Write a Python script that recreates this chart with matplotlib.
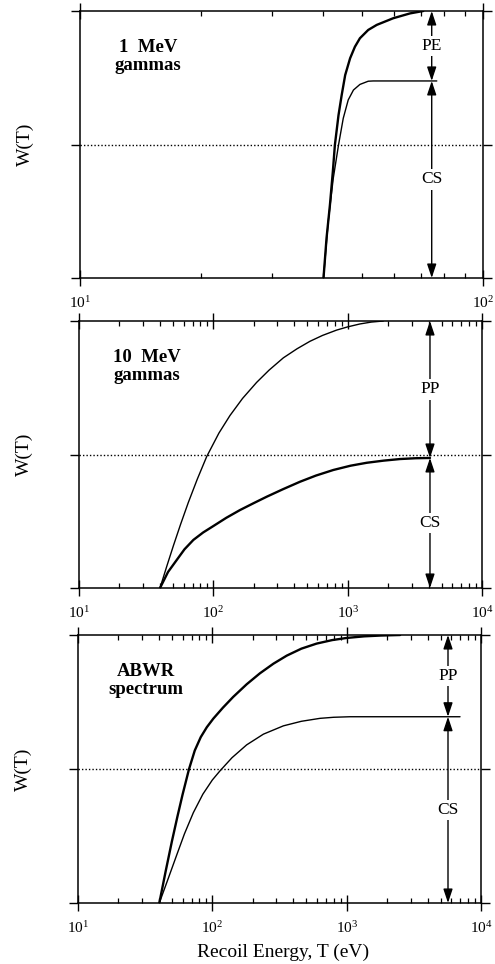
import matplotlib
matplotlib.use("Agg")
import matplotlib.pyplot as plt
from matplotlib.ticker import LogLocator, LogFormatterMathtext, NullFormatter, FixedLocator

plt.rcParams["font.family"] = ["Liberation Serif", "DejaVu Serif"]
plt.rcParams["mathtext.fontset"] = "custom"
plt.rcParams["mathtext.rm"] = "Liberation Serif"
plt.rcParams["mathtext.it"] = "Liberation Serif:italic"

# ---- 1 MeV gammas ----
mev1_total_T = [40.2, 40.9, 41.7, 42.4, 42.9, 43.8, 44.6, 45.5, 46.8, 48.1, 49.5,
                51.9, 54.5, 59.9, 65.9, 71.1]
mev1_total_W = [0.0, 0.149, 0.273, 0.398, 0.498, 0.610, 0.685, 0.760, 0.823, 0.866,
                0.898, 0.929, 0.948, 0.973, 0.991, 1.0]
mev1_cs_T = [40.2, 41.3, 42.5, 43.8, 45.0, 46.3, 47.7, 49.5, 51.9, 53.4, 76.8]
mev1_cs_W = [0.0, 0.211, 0.373, 0.498, 0.598, 0.667, 0.704, 0.725, 0.737, 0.738, 0.738]

# ---- 10 MeV gammas ----
mev10_total_T = [40.1, 45, 50.4, 57, 65.1, 76, 89.2, 110, 133, 165, 210, 260, 332,
                 420, 524, 650, 828, 1000, 1236, 1500, 1842]
mev10_total_W = [0.0, 0.081, 0.158, 0.238, 0.32, 0.408, 0.492, 0.58, 0.646, 0.71,
                 0.77, 0.816, 0.862, 0.896, 0.924, 0.946, 0.966, 0.978, 0.989, 0.996, 1.0]
mev10_cs_T = [40.1, 46, 53.4, 61, 71, 84, 100, 125, 158, 200, 250, 330, 442, 580,
              782, 1050, 1386, 1850, 2453, 3200, 4100]
mev10_cs_W = [0.0, 0.06, 0.105, 0.145, 0.18, 0.208, 0.232, 0.263, 0.292, 0.318,
              0.342, 0.37, 0.398, 0.421, 0.442, 0.458, 0.469, 0.477, 0.483, 0.486, 0.487]

# ---- ABWR spectrum ----
abwr_total_T = [40.3, 45, 50, 55, 60, 67, 74, 82, 91, 101.7, 120, 143, 180, 226, 285,
                358, 460, 598, 780, 1000, 1350, 1800, 2500]
abwr_total_W = [0.0, 0.12, 0.23, 0.323, 0.404, 0.499, 0.569, 0.619, 0.656, 0.688,
                0.729, 0.769, 0.816, 0.857, 0.893, 0.923, 0.949, 0.968, 0.981, 0.989,
                0.995, 0.998, 1.0]
abwr_cs_T = [40.3, 47, 54.3, 62, 72.2, 85, 100, 114, 140, 180, 240, 338, 460, 633,
             800, 1059, 1500, 2500, 6980]
abwr_cs_W = [0.0, 0.092, 0.179, 0.258, 0.337, 0.406, 0.459, 0.493, 0.542, 0.59, 0.63,
             0.661, 0.678, 0.689, 0.693, 0.695, 0.695, 0.695, 0.695]

panel_titles = ["1  MeV\ngammas", "10  MeV\ngammas", "ABWR\nspectrum"]
panel_xlims = [(10, 100), (10, 1e4), (10, 1e4)]
upper_labels = ["PE", "PP", "PP"]
arrow_T = [74.6, 4100, 5680]
split_W = [0.738, 0.487, 0.695]

curves = [
    ((mev1_total_T, mev1_total_W, 1.7), (mev1_cs_T, mev1_cs_W, 1.0)),
    ((mev10_total_T, mev10_total_W, 1.0), (mev10_cs_T, mev10_cs_W, 1.7)),
    ((abwr_total_T, abwr_total_W, 1.7), (abwr_cs_T, abwr_cs_W, 1.0)),
]

fig = plt.figure(figsize=(4.95, 9.64), dpi=100)
rects = [
    [80 / 495, 1 - 278 / 964, 403 / 495, 267 / 964],
    [79 / 495, 1 - 588 / 964, 403 / 495, 267 / 964],
    [78 / 495, 1 - 903 / 964, 403 / 495, 268 / 964],
]

arrow_kw = dict(arrowstyle="<|-|>,head_length=0.6,head_width=0.2",
                color="black", lw=1.0, shrinkA=0, shrinkB=0, mutation_scale=14)

for i, ax_rect in enumerate(rects):
    ax = fig.add_axes(ax_rect)
    ax.set_xscale("log")
    ax.set_xlim(*panel_xlims[i])
    ax.set_ylim(0, 1)

    for T, W, lw in curves[i]:
        ax.plot(T, W, color="black", lw=lw, solid_capstyle="round",
                solid_joinstyle="round", zorder=3)

    ax.axhline(0.5, color="black", lw=1.0, ls=(0, (1, 1.5)), zorder=2)

    for sp in ax.spines.values():
        sp.set_linewidth(1.1)

    ax.xaxis.set_major_locator(LogLocator(base=10, numticks=10))
    ax.xaxis.set_minor_locator(LogLocator(base=10, subs=range(2, 10), numticks=20))
    ax.xaxis.set_major_formatter(LogFormatterMathtext())
    ax.xaxis.set_minor_formatter(NullFormatter())
    ax.tick_params(axis="x", which="major", direction="inout", length=12, width=1.0,
                   top=True, bottom=True, labelsize=11, pad=6)
    ax.tick_params(axis="x", which="minor", direction="in", length=3.5, width=0.9,
                   top=True, bottom=True)

    ax.yaxis.set_major_locator(FixedLocator([0, 0.5, 1]))
    ax.tick_params(axis="y", which="major", direction="out", length=6.5, width=1.0,
                   left=True, right=True, labelleft=False)

    ax.set_ylabel("W(T)", fontsize=14)
    ax.yaxis.set_label_coords(-0.115, 0.5)

    ax.text(0.168, 0.83, panel_titles[i], transform=ax.transAxes, ha="center",
            va="center", fontsize=13.5, fontweight="bold", linespacing=1.05)

    xa = arrow_T[i]
    sw = split_W[i]
    ax.annotate("", xy=(xa, 1.0), xytext=(xa, sw), arrowprops=arrow_kw, zorder=4)
    ax.annotate("", xy=(xa, sw), xytext=(xa, 0.0), arrowprops=arrow_kw, zorder=4)
    ax.text(xa, (1 + sw) / 2, upper_labels[i], ha="center", va="center", fontsize=12.5,
            zorder=5, bbox=dict(facecolor="white", edgecolor="none", pad=1.5))
    ax.text(xa, sw / 2, "CS", ha="center", va="center", fontsize=12.5,
            zorder=5, bbox=dict(facecolor="white", edgecolor="none", pad=1.5))

    if i == 2:
        ax.text(0.51, -0.183, "Recoil Energy, T (eV)", transform=ax.transAxes,
                ha="center", va="center", fontsize=14)

fig.savefig("out.png", dpi=100)
